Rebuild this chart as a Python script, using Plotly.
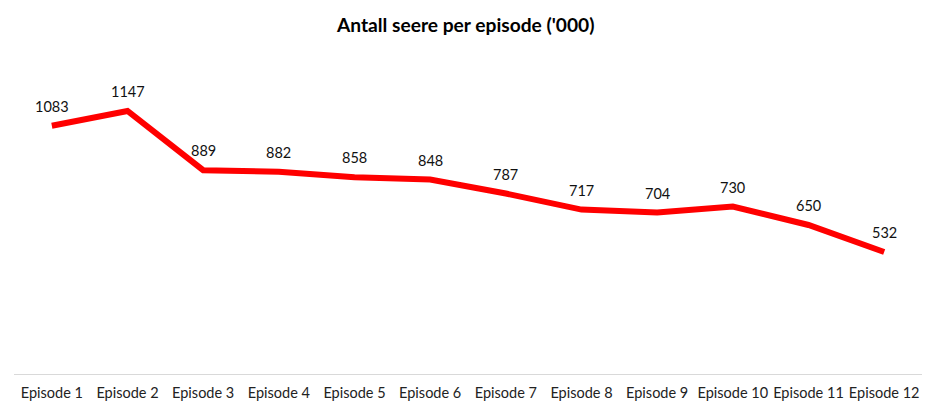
import plotly.graph_objects as go

episodes = ["Episode 1", "Episode 2", "Episode 3", "Episode 4", "Episode 5", "Episode 6",
            "Episode 7", "Episode 8", "Episode 9", "Episode 10", "Episode 11", "Episode 12"]
viewers = [1083, 1147, 889, 882, 858, 848, 787, 717, 704, 730, 650, 532]

FONT = "Lato"

fig = go.Figure()
fig.add_trace(go.Scatter(
    x=episodes, y=viewers, mode="lines",
    line=dict(color="#FF0000", width=6),
    hoverinfo="x+y",
))

for e, v in zip(episodes, viewers):
    fig.add_annotation(x=e, y=v, text=str(v), showarrow=False,
                       yanchor="bottom", yshift=9,
                       font=dict(family=FONT, size=14.5, color="#111111"))

fig.update_layout(
    width=937, height=414,
    margin=dict(l=14, r=15, t=53, b=40, autoexpand=False),
    paper_bgcolor="white", plot_bgcolor="white",
    showlegend=False,
    title=dict(text="<b>Antall seere per episode ('000)</b>", x=0.497, xanchor="center",
               y=1 - 25 / 414, yref="container", yanchor="middle",
               font=dict(family=FONT, size=19.2, color="#000000")),
    xaxis=dict(range=[-0.5, 11.5], automargin=False, showgrid=False, showline=True,
               linecolor="#D9D9D9", linewidth=1,
               ticks="outside", ticklen=6, tickcolor="rgba(0,0,0,0)",
               tickfont=dict(family=FONT, size=14.5, color="#222222"),
               zeroline=False),
    yaxis=dict(range=[0, 1400], visible=False, showgrid=False, zeroline=False,
               automargin=False),
)

fig.write_html("out.html", config={"displayModeBar": False},
               post_script="document.body.style.margin='0';")
